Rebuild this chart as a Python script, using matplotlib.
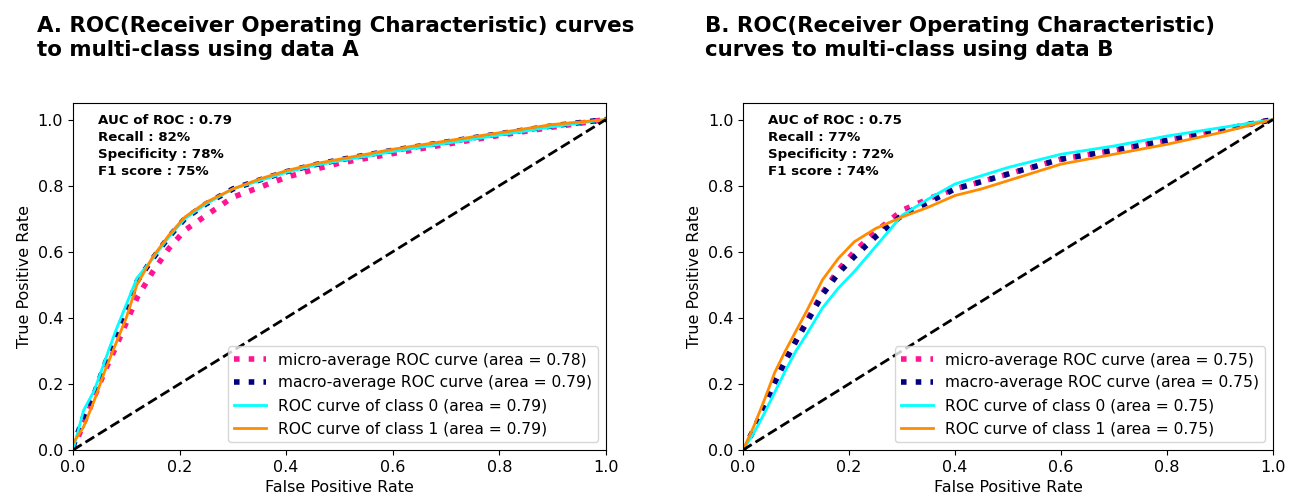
import matplotlib
matplotlib.use('Agg')
from matplotlib import pyplot as plt

# false positive rate grid shared by all curves
fpr = [0, 0.02, 0.04, 0.06, 0.08, 0.10, 0.12, 0.15, 0.18, 0.21, 0.25,
       0.30, 0.35, 0.40, 0.45, 0.50, 0.60, 0.70, 0.80, 0.90, 1.0]

# data A
a_micro = [0, 0.08, 0.16, 0.24, 0.31, 0.385, 0.46, 0.54, 0.61, 0.665, 0.71,
           0.765, 0.795, 0.825, 0.848, 0.868, 0.897, 0.925, 0.952, 0.977, 1.0]
a_macro = [0.01, 0.10, 0.17, 0.26, 0.34, 0.42, 0.51, 0.58, 0.645, 0.70, 0.745,
           0.79, 0.817, 0.842, 0.862, 0.878, 0.907, 0.932, 0.957, 0.981, 1.0]
a_class0 = [0, 0.12, 0.18, 0.27, 0.36, 0.44, 0.52, 0.58, 0.645, 0.70, 0.745,
            0.79, 0.815, 0.84, 0.86, 0.875, 0.903, 0.928, 0.953, 0.978, 1.0]
a_class1 = [0.02, 0.07, 0.15, 0.24, 0.32, 0.40, 0.50, 0.585, 0.65, 0.705, 0.75,
            0.79, 0.82, 0.845, 0.865, 0.88, 0.91, 0.935, 0.96, 0.985, 1.0]

# data B
b_micro = [0, 0.06, 0.13, 0.205, 0.27, 0.33, 0.39, 0.475, 0.545, 0.60, 0.66,
           0.725, 0.76, 0.79, 0.812, 0.835, 0.88, 0.907, 0.937, 0.968, 1.0]
b_macro = [0, 0.06, 0.13, 0.205, 0.27, 0.33, 0.385, 0.47, 0.535, 0.585, 0.645,
           0.71, 0.75, 0.79, 0.812, 0.835, 0.88, 0.907, 0.937, 0.968, 1.0]
b_class0 = [0, 0.05, 0.11, 0.175, 0.24, 0.30, 0.35, 0.43, 0.49, 0.54, 0.615,
            0.71, 0.76, 0.805, 0.83, 0.855, 0.895, 0.92, 0.95, 0.975, 1.0]
b_class1 = [0, 0.07, 0.15, 0.235, 0.30, 0.36, 0.42, 0.515, 0.58, 0.63, 0.67,
            0.705, 0.735, 0.77, 0.79, 0.815, 0.865, 0.895, 0.925, 0.96, 1.0]

titles = ['A. ROC(Receiver Operating Characteristic) curves\nto multi-class using data A',
          'B. ROC(Receiver Operating Characteristic)\ncurves to multi-class using data B']
areas = [[0.78, 0.79, 0.79, 0.79], [0.75, 0.75, 0.75, 0.75]]
stats = ['AUC of ROC : 0.79\nRecall : 82%\nSpecificity : 78%\nF1 score : 75%',
         'AUC of ROC : 0.75\nRecall : 77%\nSpecificity : 72%\nF1 score : 74%']
curves = [[a_micro, a_macro, a_class0, a_class1],
          [b_micro, b_macro, b_class0, b_class1]]

fig = plt.figure(figsize=(12.89, 5.0), dpi=100)
ax_pos = [[0.0566, 0.1, 0.4135, 0.694], [0.5764, 0.1, 0.4112, 0.694]]
title_x = [0.029, 0.547]

for idx in range(2):
    ax = fig.add_axes(ax_pos[idx])
    micro, macro, c0, c1 = curves[idx]
    ar = areas[idx]
    ax.plot(fpr, micro, color='deeppink', linestyle=':', linewidth=4,
            label='micro-average ROC curve (area = %.2f)' % ar[0])
    ax.plot(fpr, macro, color='navy', linestyle=':', linewidth=4,
            label='macro-average ROC curve (area = %.2f)' % ar[1])
    ax.plot(fpr, c0, color='aqua', linewidth=2,
            label='ROC curve of class 0 (area = %.2f)' % ar[2])
    ax.plot(fpr, c1, color='darkorange', linewidth=2,
            label='ROC curve of class 1 (area = %.2f)' % ar[3])
    ax.plot([0, 1], [0, 1], 'k--', linewidth=2)
    ax.set_xlim(0.0, 1.0)
    ax.set_ylim(0.0, 1.05)
    ax.tick_params(labelsize=11.5)
    ax.set_xlabel('False Positive Rate', fontsize=11.5)
    ax.set_ylabel('True Positive Rate', fontsize=11.5)
    ax.legend(loc='lower right', fontsize=11.2)
    ax.text(0.047, 0.968, stats[idx], transform=ax.transAxes, va='top', ha='left',
            fontsize=9.6, fontweight='bold', linespacing=1.4)
    fig.text(title_x[idx], 0.968, titles[idx], ha='left', va='top',
             fontsize=15.4, fontweight='bold', linespacing=1.28)

plt.savefig('out.png', dpi=100)
